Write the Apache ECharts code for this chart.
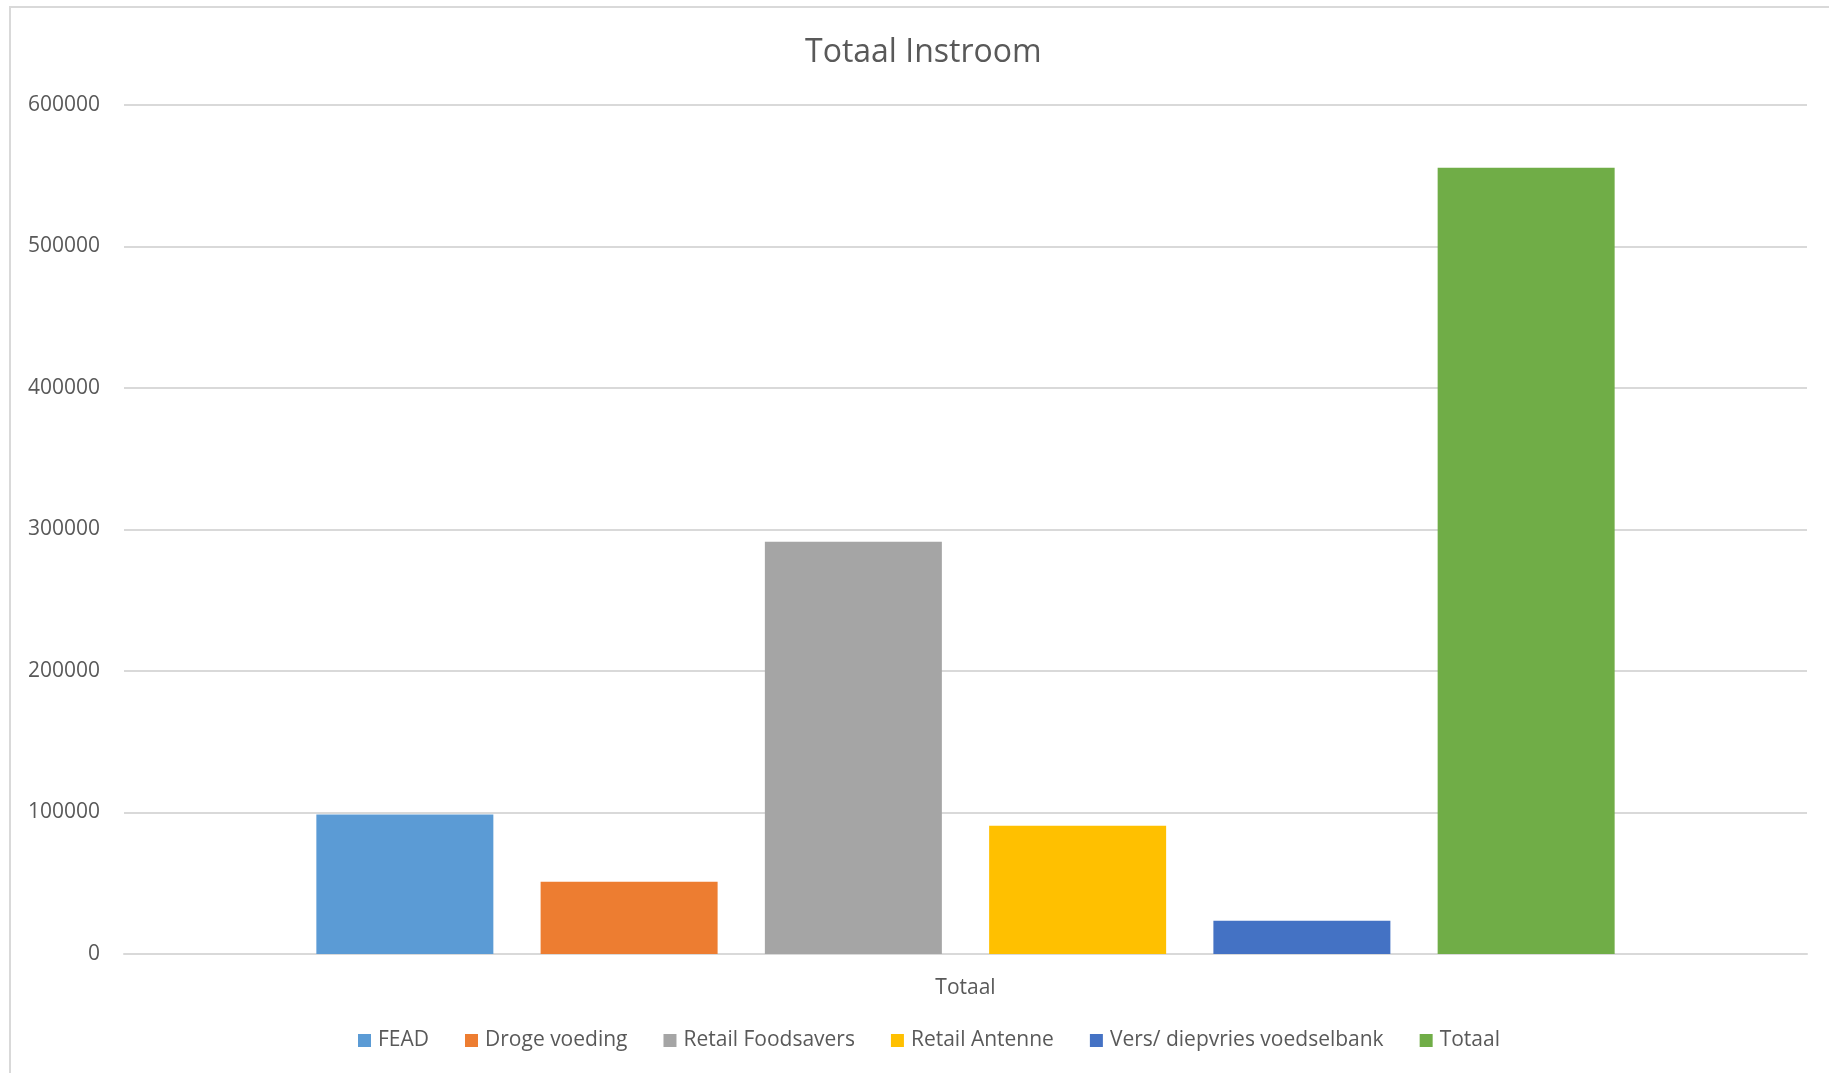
<!DOCTYPE html>
<html>
<head>
<meta charset="utf-8">
<script src="https://cdn.jsdelivr.net/npm/echarts@6/dist/echarts.min.js"></script>
<style>
html,body{margin:0;padding:0;background:#fff;}
#chart{width:1829px;height:1073px;}
</style>
</head>
<body>
<div id="chart"></div>
<script>
var categories = ['Totaal'];
var seriesNames = ['FEAD', 'Droge voeding', 'Retail Foodsavers', 'Retail Antenne', 'Vers/ diepvries voedselbank', 'Totaal'];
var seriesValues = [98500, 51100, 291400, 90700, 23500, 555700];
var seriesColors = ['#5B9BD5', '#ED7D31', '#A5A5A5', '#FFC000', '#4472C4', '#70AD47'];
var yTicks = [0, 100000, 200000, 300000, 400000, 500000, 600000];

var FONT = '"Open Sans", "Noto Sans", sans-serif';
var chart = echarts.init(document.getElementById('chart'), null, {renderer: 'canvas'});

var series = seriesNames.map(function (name, i) {
  return {
    name: name,
    type: 'bar',
    data: [seriesValues[i]],
    itemStyle: {color: seriesColors[i]},
    barWidth: 177,
    barGap: '26.7%'
  };
});

chart.setOption({
  animation: false,
  backgroundColor: '#ffffff',
  title: {
    text: 'Totaal Instroom',
    left: 800,
    top: 32,
    textStyle: {color: '#595959', fontSize: 32, fontWeight: 'normal', fontFamily: FONT}
  },
  legend: {
    data: seriesNames,
    bottom: 17,
    left: 353,
    itemWidth: 13,
    itemHeight: 13,
    itemGap: 36,
    icon: 'rect',
    textStyle: {color: '#595959', fontSize: 21, fontFamily: FONT, padding: [0, 0, 0, 2]}
  },
  grid: {left: 124, right: 22, top: 105, bottom: 119, containLabel: false},
  xAxis: {
    type: 'category',
    data: categories,
    axisLine: {show: true, lineStyle: {color: '#d9d9d9', width: 2}},
    axisTick: {show: false},
    axisLabel: {color: '#595959', fontSize: 21, fontFamily: FONT, margin: 24}
  },
  yAxis: {
    type: 'value',
    min: yTicks[0],
    max: yTicks[yTicks.length - 1],
    interval: yTicks[1] - yTicks[0],
    axisLine: {show: false},
    axisTick: {show: false},
    axisLabel: {color: '#595959', fontSize: 21, fontFamily: FONT, margin: 24,
      formatter: function (v) { return String(v); }},
    splitLine: {show: true, lineStyle: {color: '#d9d9d9', width: 2}}
  },
  graphic: [{
    type: 'rect',
    silent: true,
    shape: {x: 10, y: 7, width: 4000, height: 4000},
    style: {fill: 'none', stroke: '#d9d9d9', lineWidth: 2}
  }],
  series: series
});
</script>
</body>
</html>
